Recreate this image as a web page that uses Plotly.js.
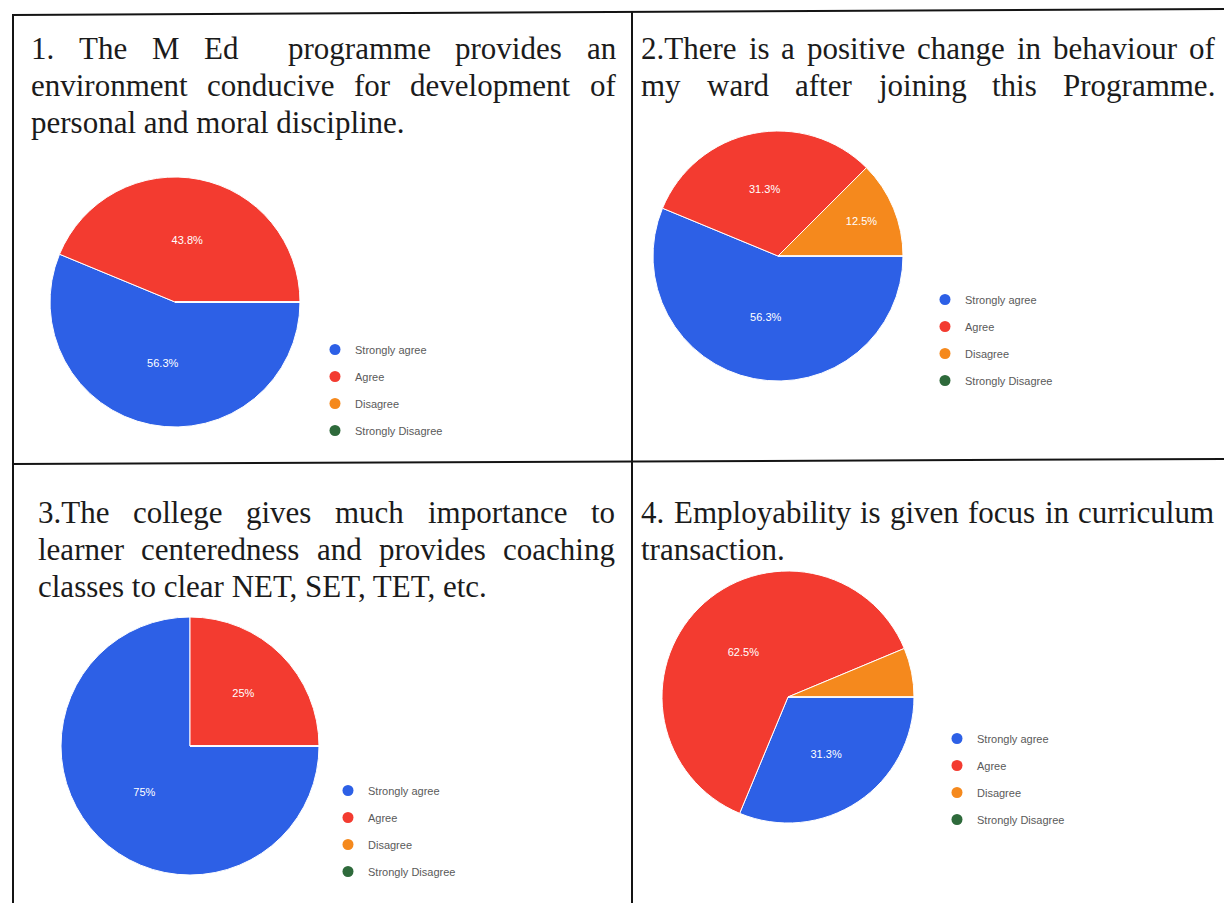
<!DOCTYPE html>
<html><head><meta charset="utf-8">
<script src="https://cdn.plot.ly/plotly-3.0.1.min.js"></script>
<style>html,body{margin:0;padding:0;background:#fff}</style>
</head><body><div id="chart" style="width:1224px;height:903px"></div>
<script>
// ---- data ----
const categories = ['Strongly agree', 'Agree', 'Disagree', 'Strongly Disagree'];
const q1Values = [56.3, 43.8, 0, 0];
const q2Values = [56.3, 31.3, 12.5, 0];
const q3Values = [75, 25, 0, 0];
const q4Values = [31.3, 62.5, 6.3, 0];
const q1Lines = ['1. The M Ed  programme provides an', 'environment conducive for development of', 'personal and moral discipline.'];
const q2Lines = ['2.There is a positive change in behaviour of', 'my ward after joining this Programme.'];
const q3Lines = ['3.The college gives much importance to', 'learner centeredness and provides coaching', 'classes to clear NET, SET, TET, etc.'];
const q4Lines = ['4. Employability is given focus in curriculum', 'transaction.'];
const sliceColors = ['#2d60e6', '#f33b30', '#f5891d', '#2e6a3b'];

// ---- layout config ----
const W = 1224, H = 903;
const px = x => x / W, py = y => 1 - y / H;
const panels = [
  {values: q1Values, lines: q1Lines, cx: 175, cy: 302, r: 125, left: 30, right: 615, top: 48, justifyLast: false, legX: 315, legY: 335},
  {values: q2Values, lines: q2Lines, cx: 778, cy: 256, r: 125, left: 640, right: 1214, top: 48, justifyLast: true, legX: 925, legY: 285},
  {values: q3Values, lines: q3Lines, cx: 190, cy: 746, r: 129, left: 37, right: 614, top: 512, justifyLast: false, legX: 328, legY: 776},
  {values: q4Values, lines: q4Lines, cx: 788, cy: 697, r: 126, left: 640, right: 1213, top: 512, justifyLast: false, legX: 937, legY: 724}
];
const lineGap = 37;
const serifSize = 31;
const serifFont = '"Liberation Serif", "Times New Roman", serif';

function build() {
  const canvas = document.createElement('canvas');
  const ctx = canvas.getContext('2d');
  ctx.font = serifSize + 'px "Liberation Serif"';
  const traces = [];
  const annotations = [];
  const layout = {
    width: W, height: H, margin: {l: 0, r: 0, t: 0, b: 0},
    paper_bgcolor: '#ffffff', plot_bgcolor: '#ffffff',
    xaxis: {visible: false, range: [0, 1]}, yaxis: {visible: false, range: [0, 1]},
    showlegend: true, annotations: annotations, shapes: []
  };
  panels.forEach((p, i) => {
    traces.push({
      type: 'pie', values: p.values, labels: categories, sort: false,
      direction: 'clockwise', rotation: 90,
      marker: {colors: sliceColors, line: {color: '#ffffff', width: 1}},
      texttemplate: p.values.map(v => v >= 10 ? '%{value}%' : ''),
      textposition: 'inside', insidetextorientation: 'horizontal',
      textfont: {family: 'Arial, "Liberation Sans", sans-serif', size: 11, color: '#ffffff'},
      domain: {x: [px(p.cx - p.r), px(p.cx + p.r)], y: [py(p.cy + p.r), py(p.cy - p.r)]},
      showlegend: false, hoverinfo: 'label+percent'
    });
    const legName = i === 0 ? 'legend' : 'legend' + (i + 1);
    categories.forEach((c, k) => {
      traces.push({
        type: 'scatter', mode: 'markers', x: [null], y: [null], name: c,
        marker: {color: sliceColors[k], size: 11, symbol: 'circle'},
        legend: legName, legendgroup: 'g' + i + '_' + k, showlegend: true, hoverinfo: 'skip'
      });
    });
    layout[legName] = {
      x: px(p.legX), y: py(p.legY), xanchor: 'left', yanchor: 'top',
      bgcolor: 'rgba(0,0,0,0)', traceorder: 'grouped', tracegroupgap: 8,
      font: {family: 'Arial, "Liberation Sans", sans-serif', size: 11, color: '#5a5a5a'},
      itemclick: false, itemdoubleclick: false
    };
    // question text, justified like the source table
    p.lines.forEach((line, li) => {
      const y = p.top + li * lineGap;
      const isLast = li === p.lines.length - 1;
      const justify = !isLast || p.justifyLast;
      if (!justify) {
        annotations.push({xref: 'paper', yref: 'paper', x: px(p.left), y: py(y), xanchor: 'left', yanchor: 'middle',
          text: line, showarrow: false, borderpad: 0, font: {family: serifFont, size: serifSize, color: '#1b1b1b'}});
        return;
      }
      const words = line.split(' ');
      const widths = words.map(w => ctx.measureText(w).width);
      const total = widths.reduce((a, b) => a + b, 0);
      const gap = (p.right - p.left - total) / (words.length - 1);
      let x = p.left;
      words.forEach((w, wi) => {
        if (w.length) {
          annotations.push({xref: 'paper', yref: 'paper', x: px(x), y: py(y), xanchor: 'left', yanchor: 'middle',
            text: w, showarrow: false, borderpad: 0, font: {family: serifFont, size: serifSize, color: '#1b1b1b'}});
        }
        x += widths[wi] + gap;
      });
    });
  });
  // table grid
  const ln = (x0, y0, x1, y1) => layout.shapes.push({type: 'line', xref: 'paper', yref: 'paper',
    x0: px(x0), y0: py(y0), x1: px(x1), y1: py(y1), line: {color: '#141414', width: 2}});
  ln(12, 15, 1224, 9);
  ln(12, 464, 1224, 459);
  ln(13, 15, 13, 903);
  ln(632, 12, 632, 903);
  Plotly.newPlot('chart', traces, layout, {displayModeBar: false, staticPlot: true});
}
(document.fonts && document.fonts.load ? document.fonts.load(serifSize + 'px "Liberation Serif"') : Promise.resolve()).then(build, build);
</script>
</body></html>
